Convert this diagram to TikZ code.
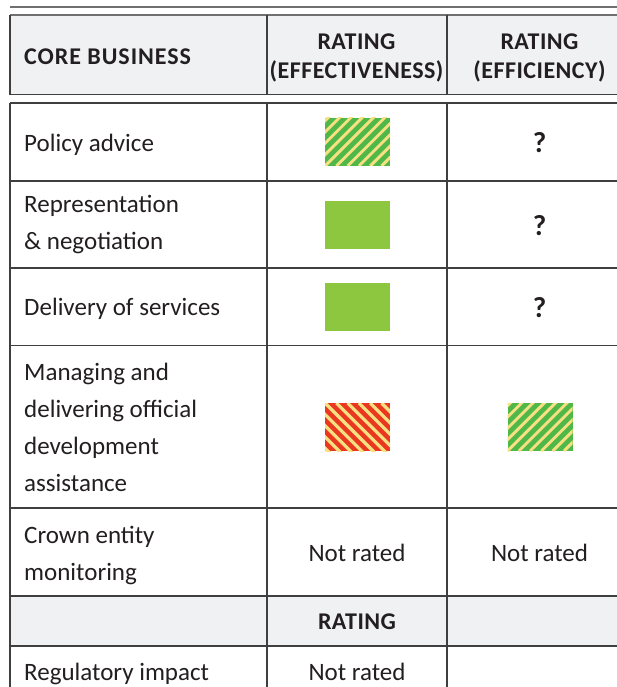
\documentclass[tikz,border=0pt]{standalone}
\usepackage{fontspec}
\setmainfont{Carlito}
\newfontfamily\hdrfont[LetterSpace=4]{Carlito}
\newfontfamily\colhdrfont[LetterSpace=2]{Carlito}
\definecolor{hdrgray}{HTML}{F0F1F3}
\definecolor{rulec}{HTML}{3F3F3F}
\definecolor{topc}{HTML}{707070}
\definecolor{txt}{HTML}{231F20}
\definecolor{solidgreen}{HTML}{8DC63F}
\definecolor{hgreen}{HTML}{50B848}
\definecolor{hyellow}{HTML}{F6E082}
\definecolor{hred}{HTML}{E9381F}
\begin{document}
\begin{tikzpicture}[x=1pt,y=-1pt,
  rulel/.style={draw=rulec, line width=1.4pt},
  topl/.style={draw=topc, line width=1.8pt},
  body/.style={anchor=base west, inner sep=0pt, text=txt, font=\fontsize{25}{37}\selectfont, align=left},
  cbody/.style={anchor=base, inner sep=0pt, text=txt, font=\fontsize{25}{37}\selectfont},
  hdr/.style={anchor=base, inner sep=0pt, text=txt, font=\hdrfont\bfseries\fontsize{24}{29.5}\selectfont, align=center},
  colhdr/.style={hdr, font=\colhdrfont\bfseries\fontsize{24}{29.5}\selectfont},
  qmark/.style={anchor=base, inner sep=0pt, text=txt, font=\bfseries\fontsize{29}{30}\selectfont},
  swatch/.style={minimum width=65pt, minimum height=48pt, inner sep=0pt, outer sep=0pt},
  solidbox/.style={swatch, fill=solidgreen},
  greenhatch/.style={swatch, fill=hgreen, path picture={
     \foreach \k in {-6,...,8}{
       \draw[hyellow, line width=2.9pt] ([xshift=\k*11.3pt]path picture bounding box.south west) -- ++(60pt,60pt);}}},
  redhatch/.style={swatch, fill=hred, path picture={
     \foreach \k in {-6,...,8}{
       \draw[hyellow, line width=3.2pt] ([xshift=\k*11.3pt]path picture bounding box.north west) -- ++(60pt,-60pt);}}},
]
\useasboundingbox (0,0) rectangle (617,687);
\clip (0,0) rectangle (617,687);
\fill[white] (0,0) rectangle (617,687);
% top rule
\draw[topl] (10,6.7) -- (640,6.7);
% header
\fill[hdrgray] (10,15) rectangle (640,94.5);
\draw[topl] (10,15) -- (640,15);
\draw[rulel] (10,15) -- (10,94.5) -- (640,94.5);
\draw[rulel] (267,15) -- (267,94.5);
\draw[rulel] (447,15) -- (447,94.5);
% body grid
\fill[hdrgray] (10,596) rectangle (640,646);
\foreach \yy in {103,181,268,345.5,508,596,646}{\draw[rulel] (10,\yy) -- (640,\yy);}
\foreach \xx in {10,267,447}{\draw[rulel] (\xx,103) -- (\xx,700);}
% header texts (base anchor = baseline of last line)
\node[hdr, anchor=base west] (hcore) at (24,64.3) {CORE BUSINESS};
\node[colhdr] (heff) at (356.5,78.8) {RATING\\(EFFECTIVENESS)};
\node[colhdr] (hefc) at (539.5,78.8) {RATING\\(EFFICIENCY)};
% row 1
\node[body] (t1) at (24,151.7) {Policy advice};
\node[greenhatch] (s1) at (357.5,142) {};
\node[qmark] (q1) at (539.5,152.3) {?};
% row 2
\node[body] (t2) at (24,249) {Representation\\\& negotiation};
\node[solidbox] (s2) at (357.5,225) {};
\node[qmark] (q2) at (539.5,235.3) {?};
% row 3
\node[body] (t3) at (24,315) {Delivery of services};
\node[solidbox] (s3) at (357.5,306.7) {};
\node[qmark] (q3) at (539.5,317.3) {?};
% row 4
\node[body] (t4) at (24,491) {Managing and\\delivering official\\development\\assistance};
\node[redhatch] (s4) at (357.5,427) {};
\node[greenhatch] (s4b) at (540,427) {};
% row 5
\node[body] (t5) at (24,580) {Crown entity\\monitoring};
\node[cbody] (n5a) at (357,561) {Not rated};
\node[cbody] (n5b) at (539.5,561) {Not rated};
% row 6
\node[colhdr] (r6) at (357,629.5) {RATING};
% row 7
\node[body] (t7) at (24,680) {Regulatory impact};
\node[cbody] (n7) at (357,680) {Not rated};
\end{tikzpicture}
\end{document}
